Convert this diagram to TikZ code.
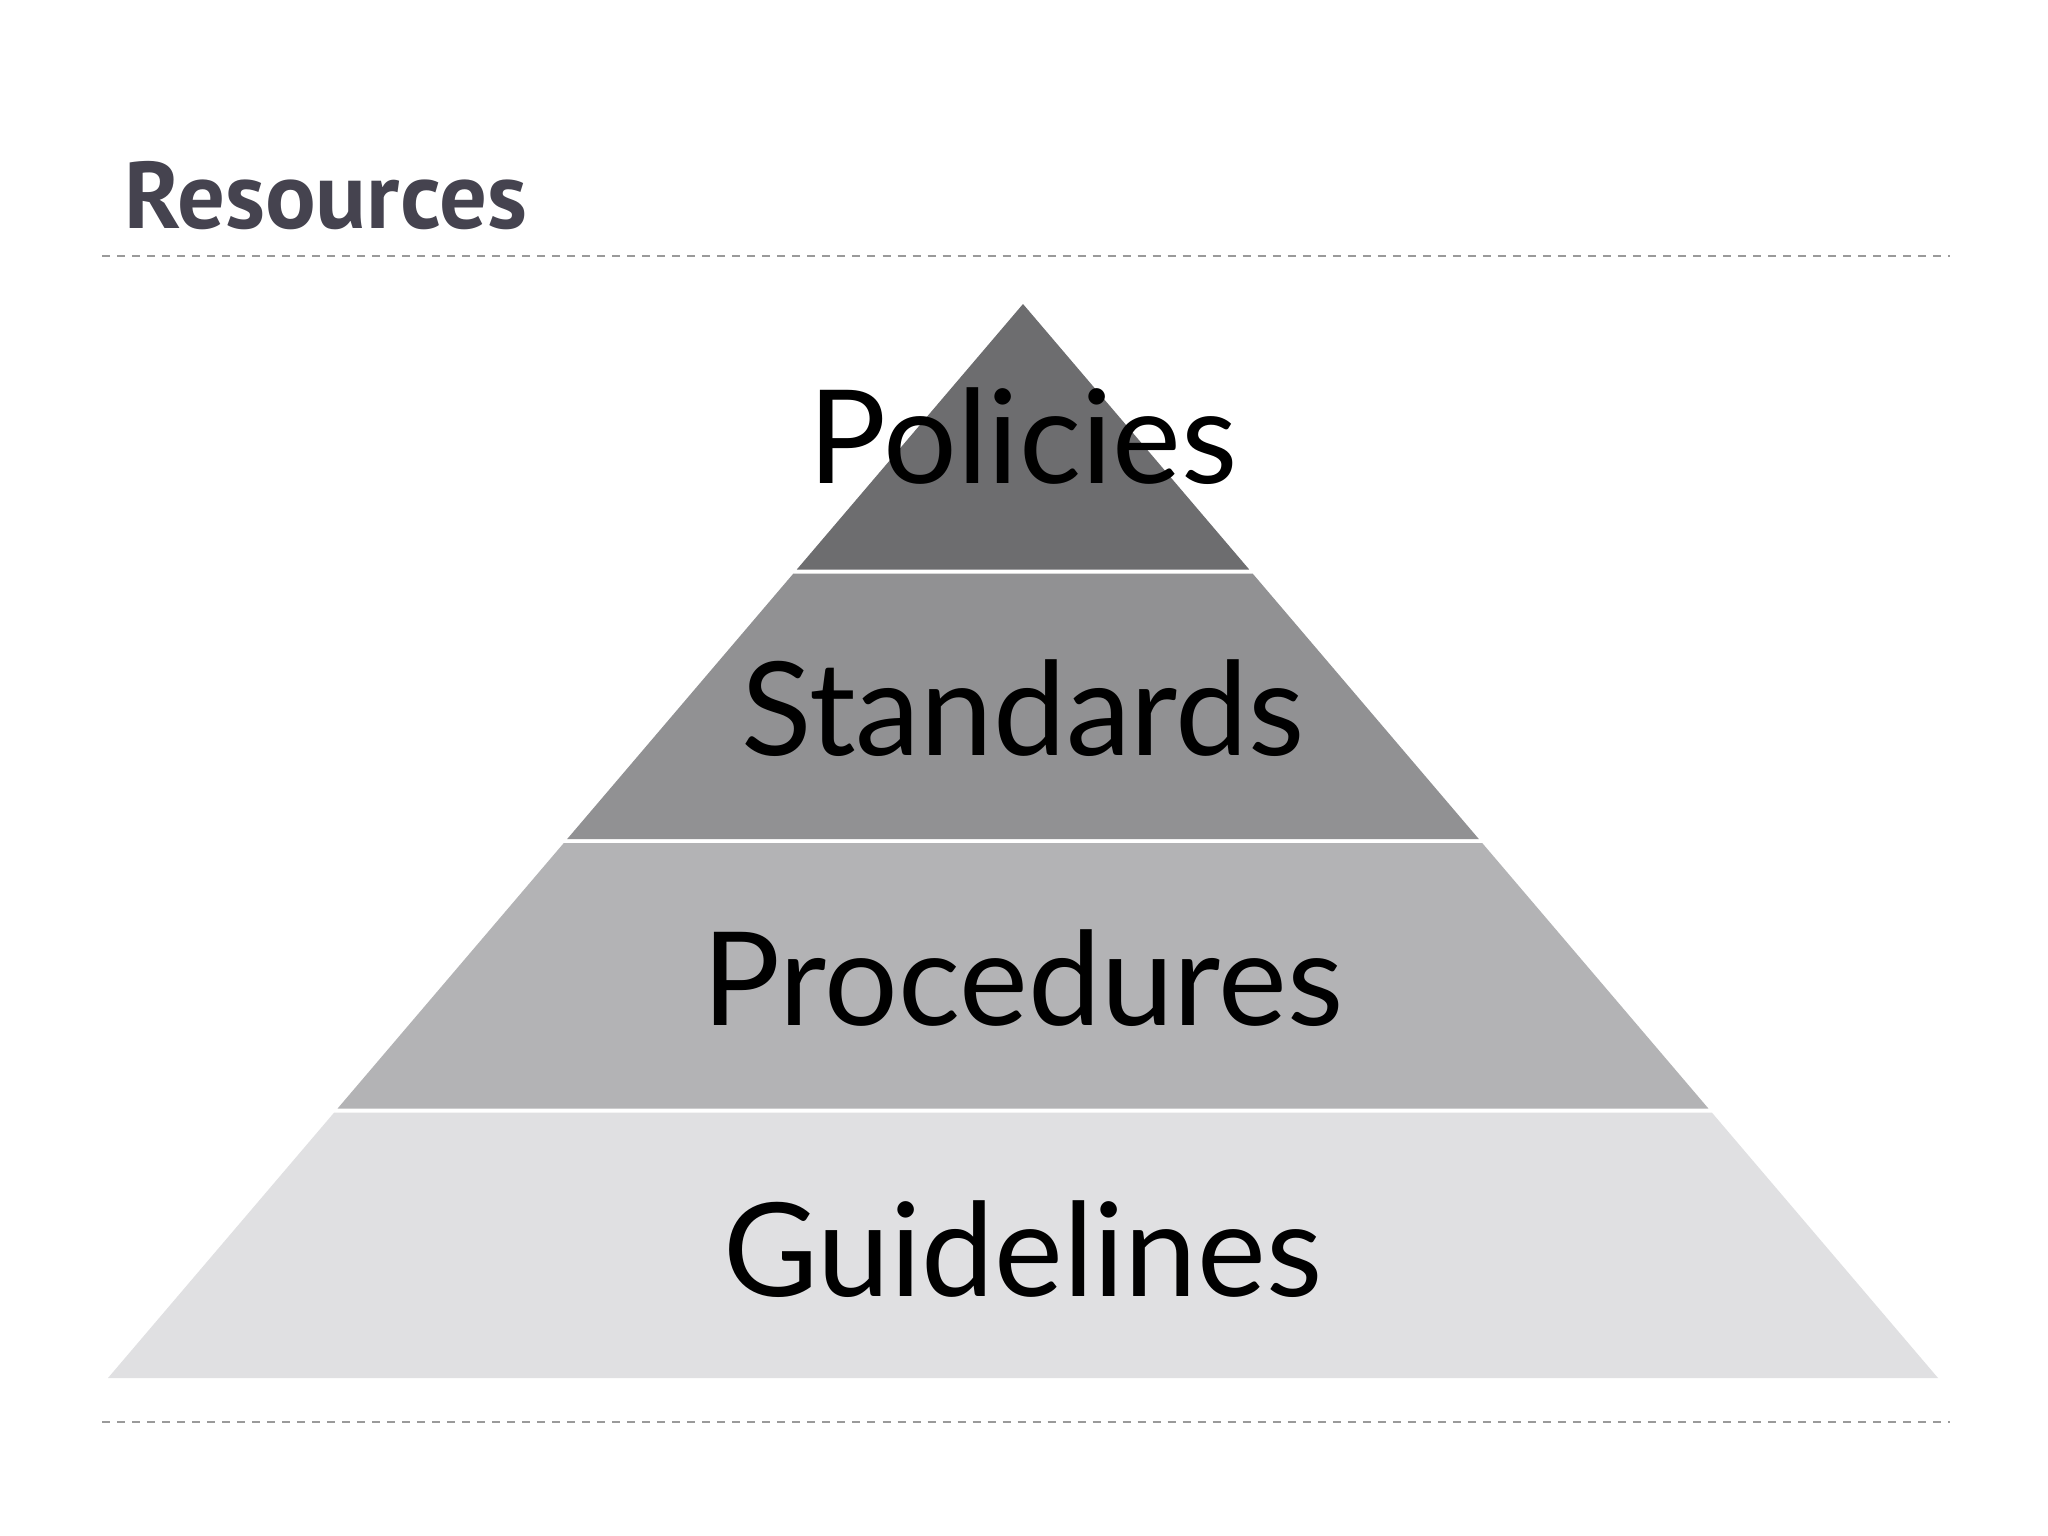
\documentclass[tikz,border=0pt]{standalone}
\usepackage{fontspec}
\setmainfont{Lato}
\newfontfamily\titlefont{PT Sans}
\definecolor{titlecol}{HTML}{45434F}
\definecolor{dashcol}{HTML}{9A9A9A}
\definecolor{layerA}{HTML}{6D6D6F}
\definecolor{layerB}{HTML}{919193}
\definecolor{layerC}{HTML}{B3B3B5}
\definecolor{layerD}{HTML}{E0E0E2}
\tikzset{
  rule/.style={draw=dashcol, line width=0.02cm, dash pattern=on 0.08cm off 0.07cm},
  label/.style={inner sep=0pt, anchor=base, text=black, font=\fontsize{37}{37}\selectfont},
}
\begin{document}
\begin{tikzpicture}[x=0.01cm, y=-0.01cm]
\useasboundingbox (0,0) rectangle (2048,1536);
\fill[white] (0,0) rectangle (2048,1536);
% title
\node[inner sep=0pt, anchor=base west, text=titlecol, font=\titlefont\bfseries\fontsize{26.9}{26.9}\selectfont] (title) at (124,228) {Resources};
% dashed rules
\coordinate (r1a) at (102,256);
\coordinate (r1b) at (1950,256);
\coordinate (r2a) at (102,1422);
\coordinate (r2b) at (1950,1422);
\draw[rule] (r1a) -- (r1b);
\draw[rule] (r2a) -- (r2b);
% pyramid layers
\fill[layerA] (1023,304) -- (1249.2,569.5) -- (796.8,569.5) -- cycle;
\fill[layerB] (793.4,573.5) -- (1252.6,573.5) -- (1478.8,839) -- (567.2,839) -- cycle;
\fill[layerC] (563.8,843) -- (1482.2,843) -- (1708.4,1108.5) -- (337.6,1108.5) -- cycle;
\fill[layerD] (334.2,1112.5) -- (1711.8,1112.5) -- (1938,1378) -- (108,1378) -- cycle;
% labels
\node[label] (policies) at (1023,483) {Policies};
\node[label] (standards) at (1023,755) {Standards};
\node[label] (procedures) at (1023,1025) {Procedures};
\node[label] (guidelines) at (1023,1296) {Guidelines};
\end{tikzpicture}
\end{document}
